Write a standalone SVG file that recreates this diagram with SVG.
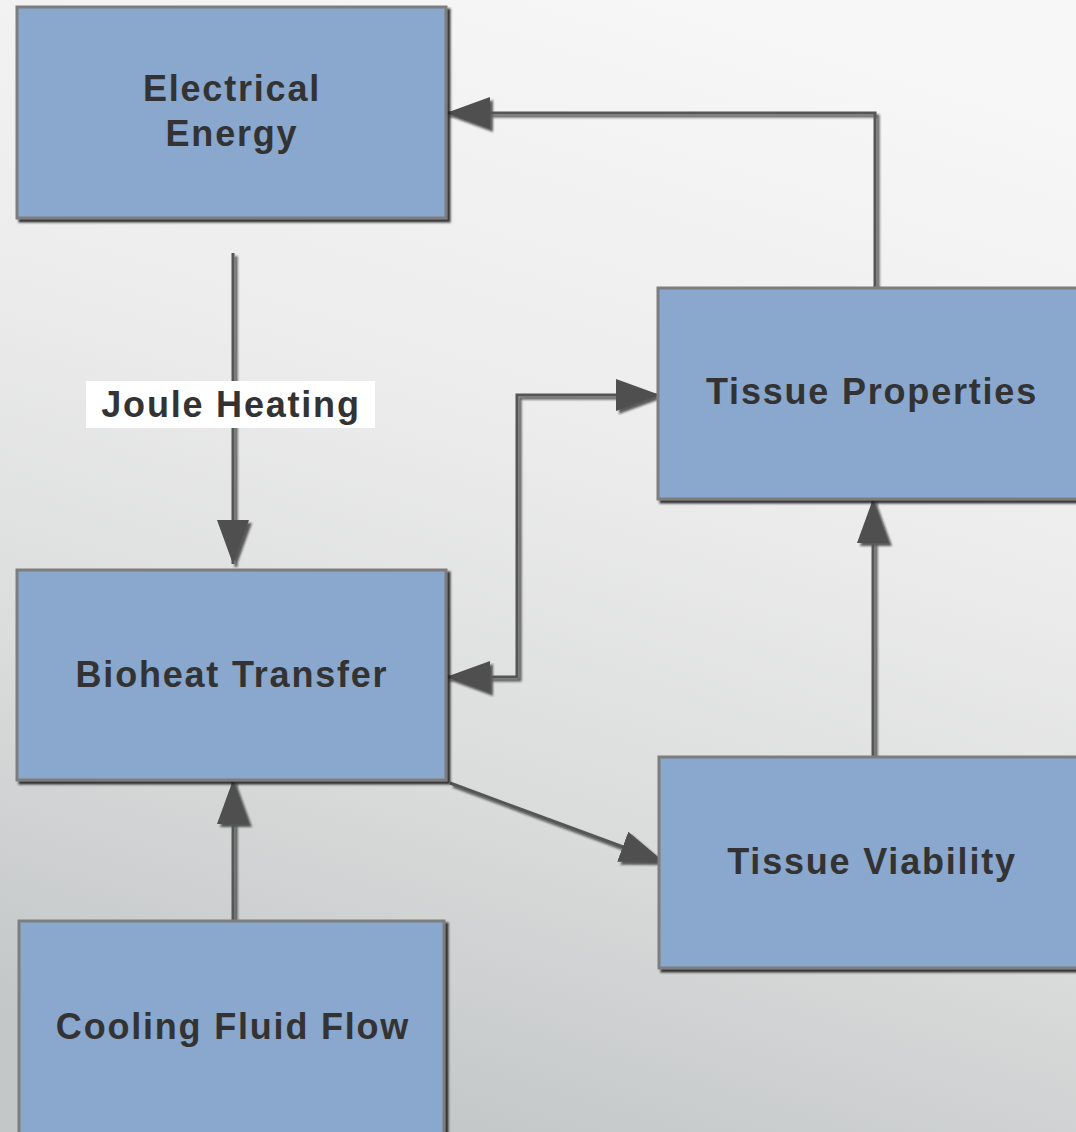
<svg xmlns="http://www.w3.org/2000/svg" width="1076" height="1132" viewBox="0 0 1076 1132">
  <defs>
    <linearGradient id="bg" x1="760" y1="0" x2="420" y2="1132" gradientUnits="userSpaceOnUse">
      <stop offset="0" stop-color="#f7f7f7"/>
      <stop offset="0.4" stop-color="#ececec"/>
      <stop offset="0.7" stop-color="#dbdcdc"/>
      <stop offset="1" stop-color="#c3c7c8"/>
    </linearGradient>
    <filter id="boxShadow" filterUnits="userSpaceOnUse" x="0" y="0" width="1076" height="1132">
      <feDropShadow dx="3" dy="3" stdDeviation="1.2" flood-color="#1e1e1e" flood-opacity="0.9"/>
    </filter>
    <filter id="lineShadow" filterUnits="userSpaceOnUse" x="0" y="0" width="1076" height="1132">
      <feDropShadow dx="3" dy="3" stdDeviation="1" flood-color="#1a1a1a" flood-opacity="0.7"/>
    </filter>
    <marker id="arrow" markerUnits="userSpaceOnUse" markerWidth="46" markerHeight="34" refX="44" refY="16" orient="auto-start-reverse" viewBox="0 0 46 34">
      <path d="M0,0 L44,16 L0,32 z" fill="#4f4f4f"/>
    </marker>
  </defs>
  <style>
    .box { fill: #8aa7cd; stroke: #7d7d7d; stroke-width: 3; filter: url(#boxShadow); }
    .label { font-family: "Liberation Sans", Arial, sans-serif; font-weight: bold; font-size: 36px; fill: #333333; text-anchor: middle; letter-spacing: 1.8px; }
    .conn { fill: none; stroke: #555555; stroke-width: 3; filter: url(#lineShadow); }
  </style>
  <rect x="0" y="0" width="1076" height="1132" fill="url(#bg)"/>

  <g id="connectors">
    <path class="conn" d="M233,253 L233,564" marker-end="url(#arrow)"/>
    <path class="conn" d="M875,290 L875,113 L446,113" marker-end="url(#arrow)"/>
    <path class="conn" d="M446,677 L517,677 L517,395 L660,395" marker-start="url(#arrow)" marker-end="url(#arrow)"/>
    <path class="conn" d="M450,783 L664,862" marker-end="url(#arrow)"/>
    <path class="conn" d="M873,758 L873,499" marker-end="url(#arrow)"/>
    <path class="conn" d="M233,922 L233,780" marker-end="url(#arrow)"/>
  </g>

  <g id="label-joule">
    <rect x="86" y="381" width="289" height="47" fill="#ffffff"/>
    <text class="label" x="231" y="417">Joule Heating</text>
  </g>

  <g id="node-electrical">
    <rect class="box" x="17" y="7" width="429" height="211"/>
    <text class="label" x="232" y="101">Electrical</text>
    <text class="label" x="232" y="146">Energy</text>
  </g>
  <g id="node-bioheat">
    <rect class="box" x="17" y="570" width="429" height="210"/>
    <text class="label" x="232" y="687">Bioheat Transfer</text>
  </g>
  <g id="node-cooling">
    <rect class="box" x="19" y="921" width="425" height="220"/>
    <text class="label" x="233" y="1039">Cooling Fluid Flow</text>
  </g>
  <g id="node-properties">
    <rect class="box" x="658" y="288" width="430" height="211"/>
    <text class="label" x="872" y="404">Tissue Properties</text>
  </g>
  <g id="node-viability">
    <rect class="box" x="659" y="757" width="430" height="211"/>
    <text class="label" x="872" y="874">Tissue Viability</text>
  </g>
</svg>
